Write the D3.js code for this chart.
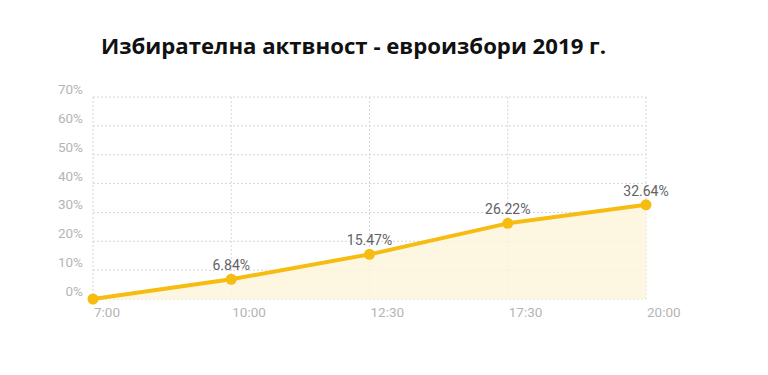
<!DOCTYPE html>
<html lang="bg">
<head>
<meta charset="utf-8">
<title>Избирателна активност</title>
<script src="https://d3js.org/d3.v7.min.js"></script>
<style>
  body { margin: 0; background: #fff; }
  svg text { font-family: Roboto, "Noto Sans", sans-serif; }
</style>
</head>
<body>
<script>
// data
var hours = ["7:00", "10:00", "12:30", "17:30", "20:00"];
var turnout = [0, 6.84, 15.47, 26.22, 32.64];
var labels = ["", "6.84%", "15.47%", "26.22%", "32.64%"];
var yTicks = [0, 10, 20, 30, 40, 50, 60, 70];

var w = 768, h = 375;
var plotLeft = 93, plotRight = 646, plotTop = 97, plotBottom = 299;

var svg = d3.select("body").append("svg")
  .attr("width", w)
  .attr("height", h);

// title
svg.append("text")
  .attr("x", 101)
  .attr("y", 54)
  .style("font-family", "'Open Sans', 'DejaVu Sans', sans-serif")
  .attr("font-weight", "bold")
  .attr("font-size", "22px")
  .attr("fill", "#111")
  .attr("textLength", 505)
  .attr("lengthAdjust", "spacingAndGlyphs")
  .text("Избирателна актвност - евроизбори 2019 г.");

var x = d3.scalePoint().domain(hours).range([plotLeft, plotRight]);
var y = d3.scaleLinear().domain([0, 70]).range([plotBottom, plotTop]);

// grid
svg.append("g").selectAll("line")
  .data(yTicks)
  .enter().append("line")
  .attr("x1", plotLeft).attr("x2", plotRight)
  .attr("y1", function(d) { return y(d); })
  .attr("y2", function(d) { return y(d); })
  .attr("stroke", "#d6d6d6")
  .attr("stroke-width", 1)
  .attr("stroke-dasharray", "2,2");

svg.append("g").selectAll("line")
  .data(hours)
  .enter().append("line")
  .attr("x1", function(d) { return x(d); })
  .attr("x2", function(d) { return x(d); })
  .attr("y1", plotTop).attr("y2", plotBottom)
  .attr("stroke", "#d6d6d6")
  .attr("stroke-width", 1)
  .attr("stroke-dasharray", "2,2");

// y tick labels
svg.append("g").selectAll("text")
  .data(yTicks)
  .enter().append("text")
  .attr("x", 83)
  .attr("y", function(d) { return y(d) - 3; })
  .attr("text-anchor", "end")
  .attr("font-size", "13.5px")
  .attr("fill", "#b5b5b5")
  .text(function(d) { return d + "%"; });

// x tick labels
svg.append("g").selectAll("text")
  .data(hours)
  .enter().append("text")
  .attr("x", function(d) { return x(d) + 1; })
  .attr("y", 317)
  .attr("font-size", "13.5px")
  .attr("fill", "#b5b5b5")
  .text(function(d) { return d; });

var pts = hours.map(function(d, i) { return [d, turnout[i]]; });

// area
var area = d3.area()
  .x(function(d) { return x(d[0]); })
  .y0(y(0))
  .y1(function(d) { return y(d[1]); });

svg.append("path")
  .datum(pts)
  .attr("d", area)
  .attr("fill", "#fdf5dc")
  .attr("opacity", 0.85);

// line
var line = d3.line()
  .x(function(d) { return x(d[0]); })
  .y(function(d) { return y(d[1]); });

svg.append("path")
  .datum(pts)
  .attr("d", line)
  .attr("fill", "none")
  .attr("stroke", "#f6bc12")
  .attr("stroke-width", 4)
  .attr("stroke-linejoin", "round");

// points
svg.append("g").selectAll("circle")
  .data(pts)
  .enter().append("circle")
  .attr("cx", function(d) { return x(d[0]); })
  .attr("cy", function(d) { return y(d[1]); })
  .attr("r", 5.5)
  .attr("fill", "#f6bc12");

// value labels
svg.append("g").selectAll("text")
  .data(pts)
  .enter().append("text")
  .attr("x", function(d) { return x(d[0]); })
  .attr("y", function(d) { return y(d[1]) - 9; })
  .attr("text-anchor", "middle")
  .attr("font-size", "14px")
  .attr("fill", "#5f6368")
  .text(function(d, i) { return labels[i]; });
</script>
</body>
</html>
